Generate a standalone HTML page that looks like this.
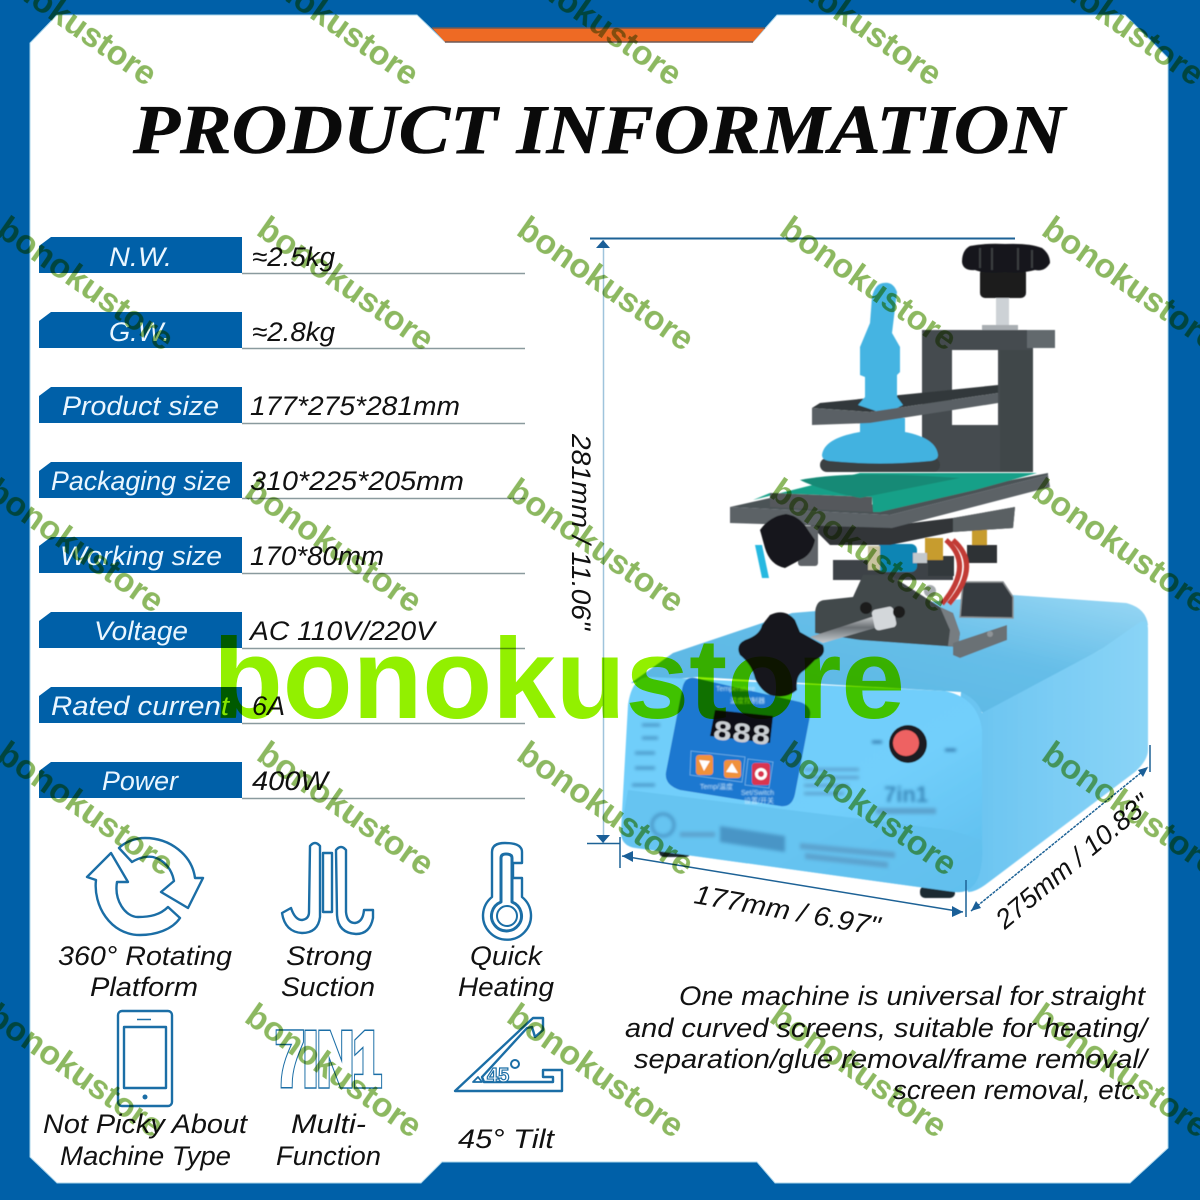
<!DOCTYPE html>
<html><head><meta charset="utf-8">
<style>
html,body{margin:0;padding:0;background:#fff}
svg{display:block}
.h{font-family:"Liberation Sans",sans-serif;font-style:italic;font-size:27px;fill:#111}
.l{font-family:"Liberation Sans",sans-serif;font-style:italic;font-size:27px;fill:#eaf6ff}
.w{font-family:"Liberation Sans",sans-serif;font-weight:bold;font-size:34px;fill:#8cb860;mix-blend-mode:multiply}
.i{fill:#fff;stroke:#1b6ea6;stroke-width:2.4;stroke-linejoin:round}
.d{stroke:#1d6296;stroke-width:1.5;fill:none}
.a{fill:#1a5f98}
.k{fill:#17181a}
</style></head><body>
<svg width="1200" height="1200" viewBox="0 0 1200 1200" xmlns="http://www.w3.org/2000/svg">
<defs>
<linearGradient id="fr" x1="0" y1="0" x2="1" y2="1"><stop offset="0" stop-color="#70cefa"/><stop offset=".6" stop-color="#72cffb"/><stop offset="1" stop-color="#5cbcec"/></linearGradient>
<linearGradient id="rs" x1="0" y1="0" x2="1" y2="0"><stop offset="0" stop-color="#66c2f0"/><stop offset=".5" stop-color="#7accf4"/><stop offset="1" stop-color="#8ad4f6"/></linearGradient>
<linearGradient id="tp" x1="0" y1="1" x2="1" y2="0"><stop offset="0" stop-color="#58b4e2"/><stop offset=".6" stop-color="#66bee8"/><stop offset="1" stop-color="#9ad8f5"/></linearGradient>
<linearGradient id="rod" x1="0" y1="0" x2="0" y2="1"><stop offset="0" stop-color="#e8eaec"/><stop offset=".5" stop-color="#6b7074"/><stop offset="1" stop-color="#c8ccd0"/></linearGradient>
<filter id="bl"><feGaussianBlur stdDeviation="1.6"/></filter>
<filter id="sb"><feGaussianBlur stdDeviation=".5"/></filter>
<filter id="m"><feGaussianBlur stdDeviation=".6"/></filter>
</defs>

<!-- frame -->
<rect width="1200" height="1200" fill="#0060a8"/>
<polygon points="30,43 57,15 417,15 445,42 753,42 777,15 1125,15 1168,58 1168,1148 1130,1183 775,1183 757,1162 442,1162 421,1183 57,1183 30,1157" fill="#fff" stroke="#a9d4ea" stroke-width="1"/>
<polygon points="432,28 765,28 753,42 445,42" fill="#ee6a24"/>
<path d="M432 28H765M445 42H753" stroke="#6d5a58" stroke-width="1.5"/>

<!-- title -->
<text x="133" y="153" font-family="'Liberation Serif',serif" font-weight="bold" font-style="italic" font-size="70" fill="#0a0a0a" stroke="#0a0a0a" stroke-width=".6" textLength="932" lengthAdjust="spacingAndGlyphs">PRODUCT INFORMATION</text>

<!-- spec rows -->
<g fill="#0060a8">
<polygon points="51,237 242,237 242,273 39,273 39,246"/>
<polygon points="51,312 242,312 242,348 39,348 39,321"/>
<polygon points="51,387 242,387 242,423 39,423 39,396"/>
<polygon points="51,462 242,462 242,498 39,498 39,471"/>
<polygon points="51,537 242,537 242,573 39,573 39,546"/>
<polygon points="51,612 242,612 242,648 39,648 39,621"/>
<polygon points="51,687 242,687 242,723 39,723 39,696"/>
<polygon points="51,762 242,762 242,798 39,798 39,771"/>
</g>
<g stroke="#8a9a9e" stroke-width="1.5">
<path d="M242 273.5H525M242 348.5H525M242 423.5H525M242 498.5H525M242 573.5H525M242 648.5H525M242 723.5H525M242 798.5H525"/>
</g>
<text class="l" x="109" y="266" textLength="63" lengthAdjust="spacingAndGlyphs">N.W.</text>
<text class="l" x="109" y="341" textLength="61" lengthAdjust="spacingAndGlyphs">G.W.</text>
<text class="l" x="62" y="415" textLength="157" lengthAdjust="spacingAndGlyphs">Product size</text>
<text class="l" x="51" y="490" textLength="180" lengthAdjust="spacingAndGlyphs">Packaging size</text>
<text class="l" x="60" y="565" textLength="162" lengthAdjust="spacingAndGlyphs">Working size</text>
<text class="l" x="94" y="640" textLength="94" lengthAdjust="spacingAndGlyphs">Voltage</text>
<text class="l" x="51" y="715" textLength="178" lengthAdjust="spacingAndGlyphs">Rated current</text>
<text class="l" x="102" y="790" textLength="76" lengthAdjust="spacingAndGlyphs">Power</text>

<text class="h" x="252" y="266" textLength="83" lengthAdjust="spacingAndGlyphs">≈2.5kg</text>
<text class="h" x="252" y="341" textLength="83" lengthAdjust="spacingAndGlyphs">≈2.8kg</text>
<text class="h" x="250" y="415" textLength="210" lengthAdjust="spacingAndGlyphs">177*275*281mm</text>
<text class="h" x="250" y="490" textLength="214" lengthAdjust="spacingAndGlyphs">310*225*205mm</text>
<text class="h" x="250" y="565" textLength="134" lengthAdjust="spacingAndGlyphs">170*80mm</text>
<text class="h" x="250" y="640" textLength="185" lengthAdjust="spacingAndGlyphs">AC 110V/220V</text>
<text class="h" x="252" y="715" textLength="33" lengthAdjust="spacingAndGlyphs">6A</text>
<text class="h" x="252" y="790" textLength="76" lengthAdjust="spacingAndGlyphs">400W</text>

<g filter="url(#m)">
<!-- base -->
<rect x="659" y="846" width="32" height="11" rx="5" fill="#1e2a33"/>
<rect x="920" y="886" width="35" height="12" rx="5" fill="#1e2a33"/>
<path d="M631 683 L673 653 L792 613 L1013 595 L1126 603 Q1146 608 1148 625 L1100 650 L985 715 L961 692 L698 677 Z" fill="url(#tp)"/>
<path d="M961 692 Q978 700 982 713 L1100 650 L1140 622 Q1148 618 1148 630 L1148 750 Q1148 760 1135 772 L985 885 Q975 892 968 892 L950 850 Z" fill="url(#rs)"/>
<path d="M650 677 L945 691 Q978 698 982 730 L982 840 Q985 895 955 892 L636 848 Q620 846 621 830 L628 705 Q632 676 650 677 Z" fill="url(#fr)"/>
<path d="M628 790 L950 830 L982 840 Q985 895 955 892 L636 848 Q620 846 621 830 Z" fill="#63c0ee" opacity=".75"/>

<!-- control panel -->
<path d="M695 678 L800 702 Q812 706 810 716 L795 794 Q792 808 780 806 L680 790 Q664 785 666 772 L682 690 Q684 676 695 678 Z" fill="#1f78d0"/>
<polygon points="715,710 773,716 770,743 710,736" fill="#0b0d12"/>
<text x="712" y="739" font-family="'Liberation Mono',monospace" font-weight="bold" font-size="28" fill="#c9cdd2" textLength="58" lengthAdjust="spacingAndGlyphs" transform="rotate(6 712 739)">888</text>
<rect x="696" y="755" width="17" height="20" rx="3" fill="#f0913a"/>
<polygon points="699,760 710,761 704,771" fill="#fff"/>
<rect x="724" y="760" width="17" height="18" rx="3" fill="#f0913a"/>
<polygon points="732,763 738,773 726,772" fill="#fff"/>
<rect x="752" y="763" width="18" height="22" rx="3" fill="#d93650"/>
<circle cx="761" cy="774" r="4.5" fill="none" stroke="#fff" stroke-width="3"/>
<path d="M691 751 L745 757 L742 782 L690 775 ZM748 759 L773 762 L769 788 L745 785Z" fill="none" stroke="#6fb1e6" stroke-width=".8"/>
<g filter="url(#sb)" fill="#cfe8fa" font-family="'Liberation Sans',sans-serif" font-size="7">
<text x="700" y="789">Temp/温度</text>
<text x="741" y="795">Set/Switch</text>
<text x="744" y="803">设置/开关</text>
<text x="716" y="691">Temperature</text>
<text x="730" y="703">温度控制器</text>
</g>
<circle cx="908" cy="744" r="19" fill="#1c1c20"/>
<circle cx="906" cy="743" r="13" fill="#ee6262"/>
<g filter="url(#bl)">
<path d="M872 742H882M945 750H956" stroke="#2f6fa4" stroke-width="2.5"/>
<text x="884" y="802" font-family="'Liberation Sans',sans-serif" font-weight="bold" font-size="22" fill="#3a88ba">7in1</text>
<rect x="876" y="808" width="60" height="6" fill="#5ba3cf"/>
<rect x="804" y="768" width="55" height="3" fill="#5ba3cf"/>
<rect x="804" y="776" width="55" height="3" fill="#5ba3cf"/>
<rect x="804" y="784" width="45" height="3" fill="#5ba3cf"/>
<rect x="804" y="792" width="40" height="3" fill="#5ba3cf"/>
<polygon points="720,826 785,836 785,852 720,842" fill="#4a95c6"/>
<polygon points="800,843 895,852 895,858 800,849" fill="#5ba3cf"/>
<polygon points="805,853 888,862 888,868 805,859" fill="#5ba3cf"/>
<circle cx="663" cy="825" r="11" fill="none" stroke="#4a95c6" stroke-width="3"/>
<rect x="680" y="832" width="35" height="5" fill="#5ba3cf"/>
<path d="M642 725H660M642 738H658M635 753H655M635 768H655M632 785H655" stroke="#4a95c6" stroke-width="3"/>
</g>

<!-- stand -->
<polygon points="963,582 1003,582 1013,597 1013,618 960,617" fill="#363b3f" stroke="#8a8f92" stroke-width="1.5"/>
<rect x="833" y="560" width="120" height="20" fill="#3d4347"/>
<rect x="967" y="545" width="30" height="18" fill="#2e3236"/>
<rect x="928" y="556" width="26" height="20" fill="#33383b"/>
<path d="M815 633 L815 613 Q816 600 825 600 L853 597 L863 575 L890 575 L940 607 L953 613 L960 633 L958 647 L860 640 Z" fill="#42484c"/>
<path d="M940 607 L953 613 L960 633 L958 647 L948 646 L950 630 Z" fill="#777d81"/>
<polygon points="953,643 1007,625 1007,640 960,658 953,655" fill="#6b7175"/>
<circle cx="990" cy="634" r="3" fill="#8f9498"/>
<rect x="925" y="538" width="18" height="22" fill="#c79c2f"/>
<rect x="972" y="530" width="15" height="15" fill="#c79c2f"/>
<rect x="877" y="544" width="40" height="28" rx="6" fill="#0f85b4"/>
<rect x="868" y="546" width="12" height="24" fill="#c9c3a0"/>
<rect x="913" y="553" width="14" height="10" fill="#c3c8cc"/>
<circle cx="930" cy="591" r="6" fill="#a5aaae"/>
<path d="M946 540 Q975 565 942 604 M953 540 Q982 565 949 604" stroke="#c23a35" stroke-width="5" fill="none"/>
<polygon points="755,545 762,545 769,578 762,578" fill="#25b8e0"/>

<!-- platform -->
<polygon points="887,526 953,518 1015,507 1013,528 953,532 890,545 830,545 810,525" fill="#303538"/>
<polygon points="953,518 1015,507 1013,528 953,532" fill="#5a6064"/>
<polygon points="730,507 890,515 1048,475 1050,487 892,528 730,523" fill="#5c6266"/>
<polygon points="730,507 770,498 880,505 1048,473 1048,475 890,515" fill="#4c5256"/>
<polygon points="753,500 860,473 1037,473 975,490 880,512 873,512 872,497 770,493" fill="#16a088"/>
<polygon points="770,493 872,497 872,512 770,507" fill="#55595c"/>
<path d="M800 480Q850 470 960 478Q900 490 860 498Q820 490 800 480Z" fill="#128a76"/>
<rect x="798" y="526" width="20" height="40" rx="3" fill="#5f6467"/>
<path d="M786 514 Q800 516 808 530 L815 540 Q812 555 800 560 L785 568 Q770 565 765 548 L760 530 Q770 516 786 514Z" class="k"/>

<!-- column -->
<path fill-rule="evenodd" d="M922 330 H1055 V348 H1033 V472 H922 Z M952 350 V425 H998 V350 Z" fill="#454c50"/>
<rect x="1027" y="330" width="28" height="18" fill="#62696d"/>
<rect x="1000" y="350" width="33" height="122" fill="#3f4649"/>
<!-- cup -->
<rect x="820" y="458" width="120" height="14" rx="7" fill="#3a3f42"/>
<path d="M822 455 Q824 438 860 432 L860 418 L905 418 L905 432 Q936 438 938 455 Q938 460 930 461 Q880 466 830 461 Q822 460 822 455Z" fill="#42b2e0"/>
<!-- arm top -->
<polygon points="812,408 820,403 920,393 998,385 998,393 870,412" fill="#33383b"/>
<!-- stem -->
<path d="M883 283 Q893 281 897 292 L892 333 L900 347 L900 372 L897 375 L897 397 L903 405 L885 414 L858 405 L865 397 L865 377 L860 375 L860 347 L870 323 L872 297 Q875 284 883 283Z" fill="#44b4e2"/>
<!-- arm front -->
<polygon points="812,408 870,412 998,393 998,403 870,423 812,425" fill="#5a6165"/>
<!-- top knob -->
<rect x="996" y="297" width="13" height="30" fill="#cdd2d6"/>
<rect x="982" y="325" width="36" height="5" fill="#a9aeb2"/>
<rect x="980" y="268" width="46" height="30" rx="5" fill="#1b1c1e"/>
<path d="M970 246 Q985 243 1005 244 Q1030 243 1042 248 Q1050 254 1050 263 Q1045 272 1035 270 Q1020 274 1005 272 Q985 274 975 270 Q963 271 962 262 Q962 250 970 246Z" class="k"/>
<path d="M980 248V268M992 248V270M1018 248V270M1032 250V268" stroke="#3a3c40" stroke-width="2"/>
<!-- front knob -->
<polygon points="810,637 887,612 892,623 823,643" fill="url(#rod)"/>
<rect x="873" y="608" width="22" height="21" rx="4" fill="#d3d7da" transform="rotate(-12 884 618)"/>
<circle cx="866" cy="608" r="6" fill="#1a1b1d"/>
<circle cx="899" cy="612" r="6" fill="#1a1b1d"/>
<path d="M770 615 Q785 608 795 620 L800 632 L823 645 Q827 655 815 660 L805 670 Q795 675 797 690 Q785 700 770 695 Q760 690 755 678 Q752 665 740 655 Q735 645 745 640 Q760 635 762 625 Z" class="k"/>
</g>

<!-- dimension lines -->
<g class="d">
<path d="M590 238.5H1015" stroke-width="2"/>
<path d="M603.5 240V843" stroke="#9fc4dc"/>
<path d="M587 843.5H620"/>
<path d="M620 837V868M966 880V917M1150 745V772"/>
<path d="M622 856L963 912"/>
<path d="M971 911L1148 767" stroke-dasharray="3 1"/>
</g>
<polygon class="a" points="603,240 596,248 610,248"/>
<polygon class="a" points="603,843 596,835 610,835"/>
<polygon class="a" points="622,856 633,851 633,862"/>
<polygon class="a" points="963,912 952,906 952,917"/>
<polygon class="a" points="971,911 976,901 981,908"/>
<polygon class="a" points="1148,767 1143,777 1138,770"/>
<text class="h" x="572" y="434" transform="rotate(90 572 434)" textLength="196" lengthAdjust="spacingAndGlyphs">281mm / 11.06"</text>
<text class="h" x="693" y="903" transform="rotate(10 693 903)" textLength="188" lengthAdjust="spacingAndGlyphs">177mm / 6.97"</text>
<text class="h" x="1005" y="930" transform="rotate(-40 1005 930)" textLength="192" lengthAdjust="spacingAndGlyphs">275mm / 10.83"</text>

<!-- icons -->
<path class="i" d="M111 853 L87 877 L96 880 C93 905,110 935,140 935 C155 935,172 930,180 918 L168 907 C160 915,150 917,138 917 C125 917,114 900,117 882 L128 882 Z"/>
<path class="i" d="M188 908 L203 878 L195 878 C192 855,170 838,145 838 C135 838,125 842,119 848 L132 862 C140 857,148 856,153 857 C165 860,172 870,174 881 L161 892 Z"/>

<path class="i" d="M310 846 Q315 840 320 846 V917 Q318 933 302 933 Q285 932 282 913 L291 908 Q295 920 302 920 Q309 919 309 912 Z"/>
<rect class="i" x="323" y="853" width="9" height="59"/>
<path class="i" d="M336 850 Q341 844 346 850 V912 Q347 923 355 923 Q363 922 364 910 L373 910 V918 Q370 934 356 934 Q338 933 337 915 Z"/>

<path class="i" d="M492 897 V852 Q492 843 505 843 Q522 843 522 852 V863 H513 V878 H522 V897 A24 24 0 1 1 492 897 Z"/>
<path class="i" d="M501 902 V858 Q501 854 506 854 Q512 854 512 858 V902 A15 15 0 1 1 501 902 Z" style="stroke-width:3"/>
<circle class="i" cx="507" cy="916" r="10" style="stroke-width:2"/>

<rect class="i" x="118" y="1011" width="54" height="95" rx="4"/>
<rect class="i" x="124" y="1027" width="42" height="61"/>
<path d="M137 1019.5H151" stroke="#1b6ea6" stroke-width="1.5"/>
<circle cx="145" cy="1097" r="2.5" fill="#1b6ea6"/>

<text x="276" y="1085" font-family="'Liberation Sans',sans-serif" font-weight="bold" font-size="75" fill="#fff" stroke="#1b6ea6" stroke-width="7.5" stroke-linejoin="miter" textLength="105" lengthAdjust="spacingAndGlyphs">7IN1</text>
<text x="276" y="1085" font-family="'Liberation Sans',sans-serif" font-weight="bold" font-size="75" fill="#fff" stroke="#fff" stroke-width="4.5" stroke-linejoin="miter" textLength="105" lengthAdjust="spacingAndGlyphs">7IN1</text>

<path class="i" d="M455 1091 L533 1018 L543 1018 L543 1030 L535 1037 L532 1027 L527 1028 L482 1077 L484 1082 L553 1082 L553 1077 L543 1077 L543 1070 L562 1070 L562 1091 Z"/>
<polygon class="i" points="473,1082 482,1082 478,1077" style="stroke-width:1.8"/>
<text x="487" y="1082" font-family="'Liberation Sans',sans-serif" font-weight="bold" font-size="20" fill="#fff" stroke="#1b6ea6" stroke-width="1.2">45</text>
<circle cx="515" cy="1064" r="4" fill="#fff" stroke="#1b6ea6" stroke-width="2"/>

<!-- icon labels -->
<text class="h" x="58" y="965" textLength="174" lengthAdjust="spacingAndGlyphs">360° Rotating</text>
<text class="h" x="90" y="996" textLength="108" lengthAdjust="spacingAndGlyphs">Platform</text>
<text class="h" x="286" y="965" textLength="86" lengthAdjust="spacingAndGlyphs">Strong</text>
<text class="h" x="281" y="996" textLength="94" lengthAdjust="spacingAndGlyphs">Suction</text>
<text class="h" x="470" y="965" textLength="72" lengthAdjust="spacingAndGlyphs">Quick</text>
<text class="h" x="458" y="996" textLength="96" lengthAdjust="spacingAndGlyphs">Heating</text>
<text class="h" x="43" y="1133" textLength="204" lengthAdjust="spacingAndGlyphs">Not Picky About</text>
<text class="h" x="60" y="1165" textLength="171" lengthAdjust="spacingAndGlyphs">Machine Type</text>
<text class="h" x="291" y="1133" textLength="75" lengthAdjust="spacingAndGlyphs">Multi-</text>
<text class="h" x="276" y="1165" textLength="105" lengthAdjust="spacingAndGlyphs">Function</text>
<text class="h" x="458" y="1148" textLength="96" lengthAdjust="spacingAndGlyphs">45° Tilt</text>

<!-- description -->
<text class="h" x="679" y="1005" textLength="466" lengthAdjust="spacingAndGlyphs">One machine is universal for straight</text>
<text class="h" x="625" y="1037" textLength="522" lengthAdjust="spacingAndGlyphs">and curved screens, suitable for heating/</text>
<text class="h" x="634" y="1068" textLength="513" lengthAdjust="spacingAndGlyphs">separation/glue removal/frame removal/</text>
<text class="h" x="893" y="1099" textLength="250" lengthAdjust="spacingAndGlyphs">screen removal, etc.</text>

<!-- big watermark -->
<text x="213" y="718" font-family="'Liberation Sans',sans-serif" font-weight="bold" font-size="114" fill="#92f000" style="mix-blend-mode:multiply" textLength="692" lengthAdjust="spacingAndGlyphs">bonokustore</text>

<!-- small watermarks -->
<g>
<text class="w" transform="translate(-22 -31) rotate(35)">bonokustore</text>
<text class="w" transform="translate(240 -31) rotate(35)">bonokustore</text>
<text class="w" transform="translate(503 -31) rotate(35)">bonokustore</text>
<text class="w" transform="translate(763 -31) rotate(35)">bonokustore</text>
<text class="w" transform="translate(1025 -31) rotate(35)">bonokustore</text>
<text class="w" transform="translate(-5 234) rotate(35)">bonokustore</text>
<text class="w" transform="translate(255 234) rotate(35)">bonokustore</text>
<text class="w" transform="translate(515 234) rotate(35)">bonokustore</text>
<text class="w" transform="translate(778 234) rotate(35)">bonokustore</text>
<text class="w" transform="translate(1040 234) rotate(35)">bonokustore</text>
<text class="w" transform="translate(-15 496) rotate(35)">bonokustore</text>
<text class="w" transform="translate(243 496) rotate(35)">bonokustore</text>
<text class="w" transform="translate(505 496) rotate(35)">bonokustore</text>
<text class="w" transform="translate(768 496) rotate(35)">bonokustore</text>
<text class="w" transform="translate(1030 496) rotate(35)">bonokustore</text>
<text class="w" transform="translate(-5 759) rotate(35)">bonokustore</text>
<text class="w" transform="translate(255 759) rotate(35)">bonokustore</text>
<text class="w" transform="translate(515 759) rotate(35)">bonokustore</text>
<text class="w" transform="translate(778 759) rotate(35)">bonokustore</text>
<text class="w" transform="translate(1040 759) rotate(35)">bonokustore</text>
<text class="w" transform="translate(-15 1021) rotate(35)">bonokustore</text>
<text class="w" transform="translate(243 1021) rotate(35)">bonokustore</text>
<text class="w" transform="translate(505 1021) rotate(35)">bonokustore</text>
<text class="w" transform="translate(768 1021) rotate(35)">bonokustore</text>
<text class="w" transform="translate(1030 1021) rotate(35)">bonokustore</text>
</g>
</svg>
</body></html>
